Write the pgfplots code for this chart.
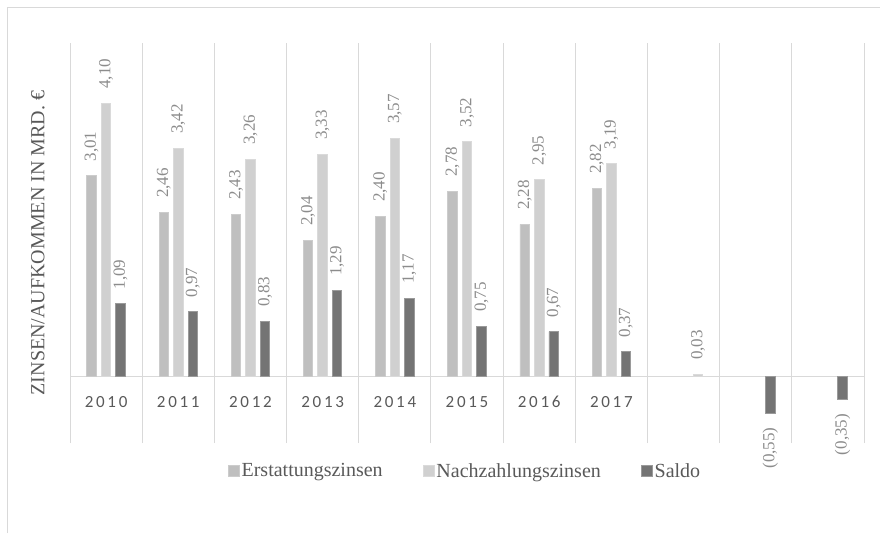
\documentclass[border=0pt]{standalone}
\usepackage{pgfplots}
\pgfplotsset{compat=1.18}
\usepackage{pgfplotstable}
\usepackage{fontspec}
\setmainfont{Liberation Serif}
\newfontfamily\labfont{Liberation Serif}
\newfontfamily\yearfont{Carlito}[LetterSpace=16]
\definecolor{cErst}{HTML}{BFBFBF}
\definecolor{cErstB}{HTML}{CCCCCC}
\definecolor{cNach}{HTML}{D0D0D0}
\definecolor{cNachB}{HTML}{DADADA}
\definecolor{cSal}{HTML}{747474}
\definecolor{cSalB}{HTML}{9A9A9A}
\definecolor{cGrid}{HTML}{D9D9D9}
\definecolor{cText}{HTML}{595959}
\definecolor{cLab}{HTML}{8C8C8C}

\pgfplotstableread{
x y lab
0 3.01 3,01
1 2.46 2,46
2 2.43 2,43
3 2.04 2,04
4 2.40 2,40
5 2.78 2,78
6 2.28 2,28
7 2.82 2,82
}\erst
\pgfplotstableread{
x y lab
0 4.10 4,10
1 3.42 3,42
2 3.26 3,26
3 3.33 3,33
4 3.57 3,57
5 3.52 3,52
6 2.95 2,95
7 3.19 3,19
}\nach
\pgfplotstableread{
x y lab
0 1.09 1,09
1 0.97 0,97
2 0.83 0,83
3 1.29 1,29
4 1.17 1,17
5 0.75 0,75
6 0.67 0,67
7 0.37 0,37
}\salpos
\pgfplotstableread{
x y lab
8 0.03 0,03
}\sallight
\pgfplotstableread{
x y lab
9 -0.55 (0,55)
10 -0.35 (0,35)
}\salneg

\begin{document}
\begin{tikzpicture}[x=1pt,y=1pt]
\useasboundingbox (0,0) rectangle (880,533);
\draw[cGrid, line width=1pt] (7,0) -- (7,525) -- (880,525);
\begin{axis}[
  at={(70pt,90pt)}, anchor=south west,
  scale only axis, width=794pt, height=400pt,
  xmin=-0.5, xmax=10.5, ymin=-1, ymax=5,
  ybar, bar width=9.5pt,
  axis line style={draw=none},
  xtick={0,...,7}, xticklabels={2010,2011,2012,2013,2014,2015,2016,2017},
  minor xtick={-0.5,0.5,...,10.5},
  xminorgrids,
  minor grid style={draw=cGrid, line width=1pt},
  ytick={0}, yticklabels={}, ymajorgrids,
  major grid style={draw=cGrid, line width=1pt},
  major tick length=0pt, minor tick length=0pt,
  xticklabel style={anchor=center, yshift=41pt, font=\yearfont\fontsize{17}{20}\selectfont, text=cText},
  ylabel={ZINSEN/AUFKOMMEN IN MRD. €},
  every axis y label/.style={at={(axis description cs:-0.0403,0.5)}, rotate=90, anchor=center, font=\rmfamily\fontsize{20}{24}\selectfont, text=cText},
  legend style={draw=none, fill=none, at={(axis description cs:0.4975,-0.07)}, anchor=center, legend columns=3, font=\rmfamily\fontsize{20}{24}\selectfont, text=cText, /tikz/every even column/.append style={column sep=38pt}},
  legend image code/.code={\fill[#1] (2pt,-5.5pt) rectangle (13pt,5.5pt);},
  nodes near coords, point meta=explicit symbolic,
  every node near coord/.append style={rotate=90, anchor=west, inner xsep=14pt, font=\labfont\fontsize{17}{20}\selectfont, text=cLab},
]
\addplot[fill=cErst, draw=cErstB, line width=0.8pt, bar shift=-14.5pt] table[x=x, y=y, meta=lab] {\erst};
\addlegendentry{Erstattungszinsen}
\addplot[fill=cNach, draw=cNachB, line width=0.8pt, bar shift=0pt] table[x=x, y=y, meta=lab] {\nach};
\addlegendentry{Nachzahlungszinsen}
\addplot[fill=cSal, draw=cSalB, line width=0.8pt, bar shift=14.5pt] table[x=x, y=y, meta=lab] {\salpos};
\addlegendentry{Saldo}
\addplot[forget plot, fill=cNach, draw=cNachB, line width=0.8pt, bar shift=14.5pt] table[x=x, y=y, meta=lab] {\sallight};
\addplot[forget plot, fill=cSal, draw=cSalB, line width=0.8pt, bar shift=14.5pt,
  every node near coord/.append style={anchor=east}] table[x=x, y=y, meta=lab] {\salneg};
\end{axis}
\end{tikzpicture}
\end{document}
